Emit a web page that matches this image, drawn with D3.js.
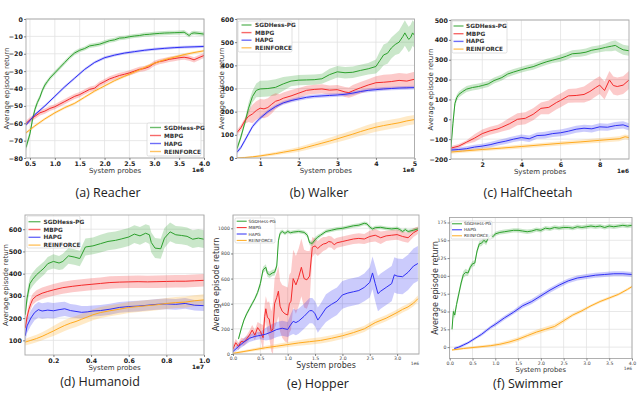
<!DOCTYPE html>
<html>
<head>
<meta charset="utf-8">
<script src="https://cdn.jsdelivr.net/npm/d3@7"></script>
<style>
  body { margin: 0; background: #fff; }
  svg { display: block; }
</style>
</head>
<body>
<svg id="chart" width="640" height="393"></svg>
<script>
// each point is [system probes, mean return, half band width]

// (a) Reacher, x in 1e6
const reacherSGD = [[0.42,-74,2],[0.5,-66,2],[0.55,-58,2],[0.6,-52,2],[0.65,-48,1.5],[0.7,-45,1.5],[0.75,-41,1.5],[0.8,-38,1.5],[0.85,-36,1.2],[0.9,-34,1.2],[1.0,-31,1.2],[1.1,-28,1.2],[1.2,-25,1.2],[1.3,-22,1.2],[1.4,-19.5,1.2],[1.5,-18,1.2],[1.6,-17,1.2],[1.7,-15.5,1.2],[1.8,-15,1.2],[1.9,-14.5,1.2],[2.0,-13.5,1.2],[2.1,-12.5,1.2],[2.2,-12,1.2],[2.3,-11,1.2],[2.4,-10.8,1.2],[2.5,-10.2,1.2],[2.6,-9.8,1.2],[2.7,-9.5,1.2],[2.8,-9,1.2],[2.9,-8.8,1.2],[3.0,-8.5,1.2],[3.1,-8.3,1.2],[3.2,-8.1,1.2],[3.3,-8,1.2],[3.4,-7.9,1.2],[3.5,-7.8,1.2],[3.6,-7.6,1.2],[3.65,-8.5,1.2],[3.7,-9.5,1.2],[3.75,-8.3,1.2],[3.8,-8,1.2],[3.9,-8.3,1.2],[4.0,-8.7,1.2]];
const reacherMBPG = [[0.42,-60,1.5],[0.5,-58,1.5],[0.6,-56,1.5],[0.7,-54,1.5],[0.8,-53,1.5],[0.9,-51.5,1.5],[1.0,-50.5,1.5],[1.1,-49,1.5],[1.2,-47.5,1.5],[1.3,-46,1.5],[1.4,-44.5,1.5],[1.5,-43.5,1.5],[1.6,-42,1.5],[1.7,-40.5,1.5],[1.8,-39.8,1.5],[1.9,-37.5,1.5],[2.0,-36,1.5],[2.1,-34.5,1.5],[2.2,-33.5,1.5],[2.3,-32.5,1.5],[2.4,-31.8,1.5],[2.5,-31,1.5],[2.6,-30,1.5],[2.7,-29,1.5],[2.8,-28.5,1.5],[2.9,-27.5,1.5],[3.0,-25.5,1.5],[3.1,-24.5,1.5],[3.2,-24,1.5],[3.3,-23.2,1.5],[3.4,-22.8,1.5],[3.5,-22.3,1.5],[3.6,-22,1.5],[3.7,-22.5,1.5],[3.8,-23.5,1.5],[3.9,-22.2,1.5],[4.0,-21,1.5]];
const reacherHAPG = [[0.42,-61,0.8],[0.6,-55,0.8],[0.8,-50,0.8],[1.0,-44.5,0.8],[1.2,-39,0.8],[1.4,-34,0.8],[1.6,-29,0.8],[1.8,-25,0.8],[2.0,-22.3,0.8],[2.2,-20.8,0.8],[2.4,-19.6,0.8],[2.6,-18.8,0.8],[2.8,-18,0.8],[3.0,-17.4,0.8],[3.2,-16.9,0.8],[3.4,-16.5,0.8],[3.6,-16.2,0.8],[3.8,-16,0.8],[4.0,-15.8,0.8]];
const reacherREIN = [[0.42,-65.5,0.8],[0.6,-61.5,0.8],[0.8,-57.5,0.8],[1.0,-54,0.8],[1.2,-51,0.8],[1.4,-48.5,0.8],[1.6,-45,0.8],[1.8,-41.5,0.8],[2.0,-38.5,0.8],[2.2,-35.5,0.8],[2.4,-33,0.8],[2.6,-30.5,0.8],[2.8,-28,0.8],[3.0,-25.5,0.8],[3.2,-23.5,0.8],[3.4,-22,0.8],[3.6,-20.5,0.8],[3.8,-19.3,0.8],[4.0,-18.3,0.8]];

// (b) Walker, x in 1e6
const walkerSGD = [[0.4,40,12],[0.5,90,12],[0.6,150,12],[0.7,215,25],[0.8,265,25],[0.9,292,30],[1.0,298,35],[1.2,300,35],[1.4,305,35],[1.6,320,30],[1.8,332,22],[2.0,336,22],[2.2,337,22],[2.4,338,22],[2.6,342,22],[2.8,360,25],[3.0,372,25],[3.2,368,25],[3.4,370,25],[3.6,378,25],[3.8,385,25],[4.0,395,30],[4.1,420,40],[4.2,445,45],[4.3,452,45],[4.4,475,45],[4.5,490,45],[4.6,500,50],[4.7,525,55],[4.75,540,55],[4.8,525,55],[4.85,512,55],[4.9,520,55],[4.95,540,55],[5.0,530,55]];
const walkerMBPG = [[0.4,110,12],[0.5,130,12],[0.6,160,12],[0.7,180,25],[0.8,190,40],[0.9,205,40],[1.0,215,40],[1.1,212,40],[1.2,218,40],[1.3,232,40],[1.4,245,35],[1.5,250,25],[1.6,258,25],[1.8,268,25],[2.0,280,22],[2.2,292,20],[2.4,296,20],[2.6,298,20],[2.8,293,20],[3.0,295,20],[3.2,285,22],[3.3,282,22],[3.4,290,25],[3.6,303,25],[3.8,315,25],[4.0,325,28],[4.2,327,32],[4.4,330,32],[4.6,335,32],[4.8,332,32],[5.0,340,32]];
const walkerHAPG = [[0.4,25,8],[0.5,45,8],[0.6,75,8],[0.7,105,8],[0.8,135,8],[0.9,155,8],[1.0,172,8],[1.2,200,8],[1.4,222,8],[1.6,238,8],[1.8,248,8],[2.0,255,8],[2.2,262,8],[2.4,266,8],[2.6,268,8],[2.8,270,8],[3.0,272,8],[3.2,275,8],[3.4,280,8],[3.6,287,8],[3.8,292,8],[4.0,295,8],[4.2,298,8],[4.4,300,8],[4.6,302,8],[4.8,303,8],[5.0,304,8]];
const walkerREIN = [[0.4,0,2],[0.6,2,3],[0.8,5,4],[1.0,9,5],[1.2,14,6],[1.4,19,7],[1.6,25,8],[1.8,31,9],[2.0,37,10],[2.2,46,11],[2.4,55,12],[2.6,64,13],[2.8,73,14],[3.0,83,15],[3.2,93,16],[3.4,103,17],[3.6,114,18],[3.8,124,19],[4.0,133,20],[4.2,140,20],[4.4,146,20],[4.6,152,20],[4.8,160,20],[5.0,166,20]];

// (c) HalfCheetah, x in 1e6
const cheetahSGD = [[0.4,-140,10],[0.5,-20,30],[0.6,80,20],[0.7,110,15],[0.8,125,15],[1.0,140,15],[1.2,152,15],[1.5,160,15],[1.8,165,15],[2.0,170,15],[2.3,178,15],[2.6,195,15],[3.0,210,15],[3.3,228,15],[3.6,238,15],[4.0,250,15],[4.3,258,15],[4.6,265,15],[5.0,280,15],[5.3,290,15],[5.6,298,15],[6.0,308,18],[6.3,318,18],[6.6,330,18],[7.0,333,18],[7.3,338,18],[7.6,348,18],[8.0,355,18],[8.3,362,20],[8.6,368,25],[8.8,372,25],[9.0,360,25],[9.2,350,25],[9.5,345,25]];
const cheetahMBPG = [[0.4,-145,10],[0.8,-135,10],[1.2,-115,10],[1.6,-95,20],[2.0,-72,20],[2.4,-58,20],[2.8,-48,20],[3.0,-40,22],[3.4,-22,30],[3.8,0,30],[4.2,5,30],[4.6,25,30],[5.0,55,30],[5.4,60,35],[5.8,85,35],[6.0,95,35],[6.4,118,35],[6.8,120,35],[7.2,125,40],[7.5,140,45],[7.8,160,45],[8.0,172,45],[8.25,145,45],[8.5,198,45],[8.7,170,45],[8.9,165,45],[9.2,172,45],[9.5,198,45]];
const cheetahHAPG = [[0.4,-155,10],[0.8,-152,10],[1.2,-148,12],[1.6,-140,12],[2.0,-135,12],[2.4,-128,14],[2.8,-118,14],[3.2,-110,15],[3.6,-100,15],[4.0,-92,16],[4.4,-98,16],[4.8,-82,16],[5.2,-80,17],[5.6,-72,17],[6.0,-68,17],[6.4,-60,18],[6.8,-50,18],[7.2,-45,18],[7.6,-48,18],[8.0,-38,18],[8.4,-40,18],[8.8,-32,18],[9.2,-28,18],[9.5,-38,18]];
const cheetahREIN = [[0.4,-165,8],[1.0,-160,8],[2.0,-152,9],[3.0,-145,9],[4.0,-137,10],[5.0,-129,10],[6.0,-121,11],[7.0,-114,11],[8.0,-106,12],[9.0,-98,12],[9.3,-88,12],[9.5,-92,12]];

// (d) Humanoid, x in 1e7
const humanSGD = [[0.05,215,30],[0.06,290,30],[0.075,355,30],[0.09,375,30],[0.11,395,30],[0.13,410,30],[0.15,425,30],[0.17,445,30],[0.2,455,32],[0.23,448,32],[0.25,455,35],[0.28,480,35],[0.31,475,35],[0.34,468,35],[0.37,520,38],[0.41,525,38],[0.45,535,40],[0.49,545,40],[0.53,550,40],[0.56,556,40],[0.6,565,40],[0.63,578,40],[0.66,570,40],[0.69,582,40],[0.71,575,42],[0.72,540,45],[0.74,515,45],[0.77,512,45],[0.79,560,45],[0.82,588,42],[0.85,575,40],[0.88,572,40],[0.91,568,40],[0.94,555,40],[0.97,560,40],[1.0,555,40]];
const humanMBPG = [[0.05,155,20],[0.06,205,22],[0.07,240,24],[0.08,265,25],[0.09,285,25],[0.11,300,25],[0.14,312,26],[0.17,320,26],[0.2,327,26],[0.25,337,27],[0.3,343,27],[0.35,348,27],[0.4,352,27],[0.45,356,27],[0.5,360,28],[0.55,362,28],[0.6,363,28],[0.65,364,28],[0.7,363,28],[0.75,364,28],[0.8,365,28],[0.85,366,28],[0.9,366,28],[0.95,368,28],[1.0,370,28]];
const humanHAPG = [[0.05,120,30],[0.06,165,32],[0.08,200,34],[0.1,225,35],[0.12,238,35],[0.14,232,35],[0.17,236,35],[0.2,233,35],[0.23,238,33],[0.26,242,32],[0.29,234,30],[0.32,230,30],[0.35,226,28],[0.38,228,26],[0.41,232,25],[0.45,234,25],[0.5,240,25],[0.55,248,24],[0.6,252,24],[0.65,254,24],[0.7,258,24],[0.75,262,24],[0.8,264,24],[0.85,262,24],[0.9,266,24],[0.95,258,24],[1.0,256,24]];
const humanREIN = [[0.05,92,15],[0.08,100,16],[0.11,108,17],[0.14,118,18],[0.17,130,20],[0.2,142,22],[0.23,155,24],[0.26,167,25],[0.29,177,25],[0.32,185,25],[0.35,195,25],[0.38,205,25],[0.41,215,25],[0.45,225,25],[0.5,233,25],[0.55,240,25],[0.6,248,25],[0.65,252,25],[0.7,256,25],[0.75,260,25],[0.8,266,25],[0.85,270,25],[0.9,272,25],[0.95,278,25],[1.0,282,25]];

// (e) Hopper, x in 1e6
const hopperSGD = [[0.1,120,15],[0.15,200,15],[0.2,270,15],[0.25,320,15],[0.3,360,15],[0.35,400,15],[0.4,440,15],[0.45,490,20],[0.5,560,25],[0.55,670,25],[0.6,690,25],[0.63,640,25],[0.67,630,25],[0.72,645,25],[0.76,650,25],[0.8,700,25],[0.83,900,25],[0.86,960,20],[0.9,975,15],[0.95,960,15],[1.0,975,15],[1.05,965,15],[1.1,970,15],[1.2,975,15],[1.3,968,15],[1.36,945,18],[1.4,885,20],[1.45,880,20],[1.5,910,20],[1.55,930,18],[1.6,945,15],[1.7,975,15],[1.8,985,15],[1.9,995,15],[2.0,1000,15],[2.1,1010,15],[2.2,1020,15],[2.3,1025,15],[2.4,1040,15],[2.45,1035,15],[2.5,1010,15],[2.55,995,15],[2.6,1005,15],[2.7,1008,15],[2.8,1000,15],[2.9,995,15],[3.0,1000,15],[3.05,990,15],[3.1,975,15],[3.15,990,15],[3.2,975,15],[3.3,985,15],[3.38,995,15]];
const hopperMBPG = [[0.0,40,30],[0.05,90,30],[0.1,60,30],[0.15,100,30],[0.2,95,30],[0.25,120,30],[0.3,150,35],[0.35,190,40],[0.4,150,40],[0.45,210,45],[0.5,180,60],[0.55,130,100],[0.58,300,100],[0.6,360,100],[0.63,290,120],[0.66,280,140],[0.7,180,160],[0.73,200,200],[0.76,400,200],[0.8,450,200],[0.83,500,200],[0.86,380,200],[0.9,340,210],[0.95,320,220],[1.0,310,220],[1.03,400,230],[1.06,420,230],[1.1,600,230],[1.15,550,230],[1.2,610,230],[1.25,690,230],[1.3,600,230],[1.35,590,230],[1.4,620,200],[1.45,850,80],[1.5,860,60],[1.55,840,60],[1.6,860,60],[1.65,875,55],[1.7,880,50],[1.75,895,45],[1.8,890,45],[1.85,870,45],[1.9,885,40],[2.0,895,40],[2.1,905,40],[2.2,915,40],[2.3,920,40],[2.4,915,40],[2.5,935,45],[2.6,945,50],[2.7,925,50],[2.8,940,40],[2.9,945,40],[3.0,950,40],[3.1,935,40],[3.2,925,40],[3.3,965,35],[3.38,985,30]];
const hopperHAPG = [[0.0,20,15],[0.1,60,25],[0.2,95,30],[0.3,125,30],[0.4,140,30],[0.5,148,30],[0.6,158,50],[0.7,175,60],[0.8,195,60],[0.9,205,60],[1.0,195,60],[1.05,230,80],[1.1,260,100],[1.15,250,100],[1.2,262,100],[1.3,300,100],[1.4,345,100],[1.45,345,100],[1.5,320,100],[1.55,270,100],[1.6,300,100],[1.7,365,110],[1.8,395,110],[1.9,420,110],[2.0,470,110],[2.1,485,110],[2.2,495,110],[2.3,505,110],[2.4,530,110],[2.5,570,120],[2.55,645,130],[2.6,560,140],[2.65,480,140],[2.7,500,140],[2.8,530,140],[2.9,560,140],[2.95,630,140],[3.0,620,140],[3.1,615,140],[3.2,650,140],[3.3,700,140],[3.38,720,140]];
const hopperREIN = [[0.0,5,8],[0.2,20,10],[0.4,35,12],[0.6,50,15],[0.8,62,18],[1.0,75,20],[1.2,88,22],[1.4,98,25],[1.6,108,25],[1.8,125,25],[2.0,145,25],[2.2,170,25],[2.4,200,25],[2.5,225,25],[2.6,250,25],[2.8,285,25],[3.0,330,25],[3.1,355,25],[3.2,375,25],[3.3,405,25],[3.38,440,25]];

// (f) Swimmer, x in 1e6
const swimSGD = [[0.05,25,5],[0.08,50,5],[0.11,45,5],[0.15,60,5],[0.2,75,5],[0.25,90,5],[0.3,102,5],[0.35,105,5],[0.4,104,4],[0.45,112,4],[0.5,117,4],[0.55,118,4],[0.6,135,4],[0.65,145,4],[0.7,146,4],[0.75,150,4],[0.8,147,4],[0.85,154,3],[0.9,157,3],[0.95,155,3],[1.0,159,3],[1.1,161,3],[1.2,162,3],[1.3,163,3],[1.4,164,3],[1.5,164,3],[1.6,163,3],[1.7,162,3],[1.8,163,3],[1.9,165,3],[2.0,164,3],[2.1,167,3],[2.2,166,3],[2.3,168,3],[2.4,167,3],[2.5,168,3],[2.6,168,3],[2.7,167,3],[2.8,169,3],[2.9,168,3],[3.0,169,3],[3.1,170,3],[3.2,169,3],[3.3,170,3],[3.4,168,3],[3.5,170,3],[3.6,169,3],[3.7,170,3],[3.8,171,3],[3.9,170,3],[4.0,171,3]];
const swimHAPG = [[0.1,-2,2],[0.2,0,2],[0.3,3,2],[0.4,6,2],[0.5,10,2],[0.6,14,2],[0.7,18,2.5],[0.8,23,2.5],[0.9,28,2.5],[1.0,32,3],[1.2,41,3],[1.4,49,3],[1.6,58,3.5],[1.8,64,3.5],[2.0,72,3.5],[2.2,80,3.5],[2.4,87,3.5],[2.6,93,3.5],[2.8,97,3.5],[3.0,99,3.5],[3.2,101,3.5],[3.4,102,3.5],[3.6,103,3.5],[3.8,103,3.5],[4.0,102,3.5]];
const swimREIN = [[0.05,-4,1.5],[0.3,-2,1.5],[0.6,0,2],[0.9,2,2],[1.1,4,2.5],[1.3,7,3],[1.5,11,3],[1.7,16,3],[1.9,21,3.5],[2.1,25,3.5],[2.3,29,3.5],[2.5,37,3],[2.7,45,2.5],[2.9,51,2.5],[3.1,58,2],[3.3,64,2],[3.5,69,2],[3.7,74,2],[3.9,81,2],[4.0,85,2]];

const colors = { sgd: '#2ca02c', mbpg: '#f42a2a', hapg: '#2f2ff5', rein: '#ffaa1f' };
const names = { sgd: 'SGDHess-PG', mbpg: 'MBPG', hapg: 'HAPG', rein: 'REINFORCE' };

const panels = [
  { id: 'a', caption: '(a) Reacher', capX: 108, capY: 197,
    box: [26, 19, 204, 158], xd: [0.42, 4.0], yd: [-80, 0],
    xt: [0.5, 1.0, 1.5, 2.0, 2.5, 3.0, 3.5, 4.0], yt: d3.range(-80, 1, 10), xf: '.1f', yf: 'd',
    exp: '1e6', big: true, ylabX: 7, xlabDy: 15,
    series: { sgd: reacherSGD, mbpg: reacherMBPG, hapg: reacherHAPG, rein: reacherREIN },
    legend: { x: 147, y: 123, w: 54, h: 33, r0: 127.5, dy: 8, hx: 150, hl: 11, tx: 164, fs: 5.8 } },
  { id: 'b', caption: '(b) Walker', capX: 319, capY: 197,
    box: [237, 19, 414.5, 158], xd: [0.4, 5.0], yd: [0, 600],
    xt: [1, 2, 3, 4, 5], yt: d3.range(0, 601, 100), xf: 'd', yf: 'd',
    exp: '1e6', big: true, ylabX: 222, xlabDy: 15,
    series: { sgd: walkerSGD, mbpg: walkerMBPG, hapg: walkerHAPG, rein: walkerREIN },
    legend: { x: 238, y: 21, w: 54, h: 31, r0: 25, dy: 7.6, hx: 241.5, hl: 10, tx: 255, fs: 5.8 } },
  { id: 'c', caption: '(c) HalfCheetah', capX: 528, capY: 197,
    box: [451, 20, 629, 159], xd: [0.4, 9.5], yd: [-200, 500],
    xt: [2, 4, 6, 8], yt: d3.range(-200, 501, 100), xf: 'd', yf: 'd',
    exp: '1e6', big: true, ylabX: 431, xlabDy: 15,
    series: { sgd: cheetahSGD, mbpg: cheetahMBPG, hapg: cheetahHAPG, rein: cheetahREIN },
    legend: { x: 452, y: 21, w: 55, h: 32, r0: 26, dy: 7.7, hx: 453.5, hl: 10, tx: 466, fs: 5.8 } },
  { id: 'd', caption: '(d) Humanoid', capX: 100, capY: 386,
    box: [25, 215, 204, 355], xd: [0.049, 1.0], yd: [34, 664],
    xt: [0.2, 0.4, 0.6, 0.8, 1.0], yt: d3.range(100, 601, 100), xf: '.1f', yf: 'd',
    exp: '1e7', big: true, ylabX: 6, xlabDy: 15,
    series: { sgd: humanSGD, mbpg: humanMBPG, hapg: humanHAPG, rein: humanREIN },
    legend: { x: 27, y: 216, w: 53, h: 32, r0: 221.7, dy: 7.8, hx: 28.5, hl: 12, tx: 43.5, fs: 5.8 } },
  { id: 'e', caption: '(e) Hopper', capX: 318, capY: 388,
    box: [233, 215, 419, 354], xd: [0, 3.4], yd: [0, 1106],
    xt: [0, 0.5, 1.0, 1.5, 2.0, 2.5, 3.0], yt: d3.range(0, 1001, 200), xf: '.1f', yf: 'd',
    exp: '1e6', big: false, ylabX: 216, xlabDy: 13.5,
    series: { sgd: hopperSGD, mbpg: hopperMBPG, hapg: hopperHAPG, rein: hopperREIN },
    legend: { x: 235, y: 218, w: 40, h: 25, r0: 221.2, dy: 6.4, hx: 236.7, hl: 10, tx: 248.5, fs: 4.3 } },
  { id: 'f', caption: '(f) Swimmer', capX: 528, capY: 388,
    box: [449.5, 217.5, 632, 358.5], xd: [-0.005, 4.0], yd: [-16, 182],
    xt: [0, 0.5, 1.0, 1.5, 2.0, 2.5, 3.0, 3.5, 4.0], yt: d3.range(0, 176, 25), xf: '.1f', yf: 'd',
    exp: '1e6', big: false, ylabX: 435, xlabDy: 13.5,
    series: { sgd: swimSGD, hapg: swimHAPG, rein: swimREIN },
    legend: { x: 451, y: 221, w: 41, h: 18, r0: 223.8, dy: 6, hx: 452, hl: 10, tx: 464, fs: 4.3 } }
];

const svg = d3.select('#chart');
const defs = svg.append('defs');
const FONT = 'DejaVu Sans, sans-serif';

panels.forEach(p => {
  const [x0, y0, x1, y1] = p.box;
  const x = d3.scaleLinear().domain(p.xd).range([x0, x1]);
  const y = d3.scaleLinear().domain(p.yd).range([y1, y0]);
  const g = svg.append('g').attr('class', 'panel-' + p.id);

  defs.append('clipPath').attr('id', 'clip-' + p.id)
    .append('rect').attr('x', x0).attr('y', y0).attr('width', x1 - x0).attr('height', y1 - y0);

  // grid
  g.append('g').selectAll('line').data(p.xt).join('line')
    .attr('x1', d => x(d)).attr('x2', d => x(d)).attr('y1', y0).attr('y2', y1)
    .attr('stroke', '#e2e2e2').attr('stroke-width', 0.8);
  g.append('g').selectAll('line').data(p.yt).join('line')
    .attr('x1', x0).attr('x2', x1).attr('y1', d => y(d)).attr('y2', d => y(d))
    .attr('stroke', '#e2e2e2').attr('stroke-width', 0.8);

  // bands, then mean lines
  const plot = g.append('g').attr('clip-path', `url(#clip-${p.id})`);
  const area = d3.area().x(d => x(d[0])).y0(d => y(d[1] - d[2])).y1(d => y(d[1] + d[2]));
  const line = d3.line().x(d => x(d[0])).y(d => y(d[1]));
  Object.keys(p.series).forEach(k => {
    plot.append('path').datum(p.series[k]).attr('d', area)
      .attr('fill', colors[k]).attr('fill-opacity', 0.25);
  });
  Object.keys(p.series).forEach(k => {
    plot.append('path').datum(p.series[k]).attr('d', line)
      .attr('fill', 'none').attr('stroke', colors[k]).attr('stroke-width', 1)
      .attr('stroke-linejoin', 'round');
  });

  // frame
  g.append('rect').attr('x', x0).attr('y', y0).attr('width', x1 - x0).attr('height', y1 - y0)
    .attr('fill', 'none').attr('stroke', '#a8a8a8').attr('stroke-width', 0.9);

  // axes
  const tfs = p.big ? 6.3 : 4.6;
  const tfw = p.big ? 'bold' : 'normal';
  const tcol = p.big ? '#222' : '#444';
  const xa = g.append('g').attr('transform', `translate(0,${y1})`)
    .call(d3.axisBottom(x).tickValues(p.xt).tickFormat(d3.format(p.xf)).tickSize(2).tickPadding(1.2));
  const ya = g.append('g').attr('transform', `translate(${x0},0)`)
    .call(d3.axisLeft(y).tickValues(p.yt).tickFormat(d3.format(p.yf)).tickSize(2).tickPadding(1.2));
  [xa, ya].forEach(a => {
    a.select('.domain').remove();
    a.selectAll('.tick line').attr('stroke', '#555').attr('stroke-width', 0.7);
    a.selectAll('.tick text').attr('fill', tcol).attr('font-family', FONT)
      .attr('font-size', tfs).attr('font-weight', tfw);
  });

  // axis labels and offset text
  const lfs = p.big ? 7 : 8;
  g.append('text').attr('x', (x0 + x1) / 2).attr('y', y1 + p.xlabDy)
    .attr('text-anchor', 'middle').attr('font-family', FONT).attr('font-size', p.id === 'f' ? 6.8 : lfs)
    .attr('fill', '#333').text('System probes');
  g.append('text').attr('transform', `translate(${p.ylabX},${(y0 + y1) / 2}) rotate(-90)`)
    .attr('text-anchor', 'middle').attr('dy', '0.35em').attr('font-family', FONT)
    .attr('font-size', lfs).attr('fill', '#333').text('Average episode return');
  g.append('text').attr('x', x1).attr('y', y1 + (p.big ? 14 : 11))
    .attr('text-anchor', 'end').attr('font-family', FONT).attr('font-size', p.big ? 5.8 : 4.4)
    .attr('font-weight', tfw).attr('fill', tcol).text(p.exp);

  // legend
  const L = p.legend;
  const lg = g.append('g');
  lg.append('rect').attr('x', L.x).attr('y', L.y).attr('width', L.w).attr('height', L.h)
    .attr('rx', 1.5).attr('fill', '#fff').attr('fill-opacity', 0.85)
    .attr('stroke', '#d4d4d4').attr('stroke-width', 0.7);
  const keys = Object.keys(p.series);
  const rows = lg.selectAll('g').data(keys).join('g')
    .attr('transform', (d, i) => `translate(0,${L.r0 + i * L.dy})`);
  rows.append('line').attr('x1', L.hx).attr('x2', L.hx + L.hl).attr('y1', 0).attr('y2', 0)
    .attr('stroke', d => colors[d]).attr('stroke-width', p.big ? 1.4 : 1).attr('stroke-opacity', p.big ? 0.7 : 1);
  rows.append('text').attr('x', L.tx).attr('y', 0).attr('dy', '0.35em')
    .attr('font-family', FONT).attr('font-size', L.fs).attr('font-weight', p.big ? 'bold' : 'normal')
    .attr('fill', '#333').text(d => names[d]);

  // caption
  svg.append('text').attr('x', p.capX).attr('y', p.capY).attr('text-anchor', 'middle')
    .attr('font-family', 'Open Sans, sans-serif').attr('font-size', 12.5).attr('fill', '#222')
    .text(p.caption);
});
</script>
</body>
</html>
